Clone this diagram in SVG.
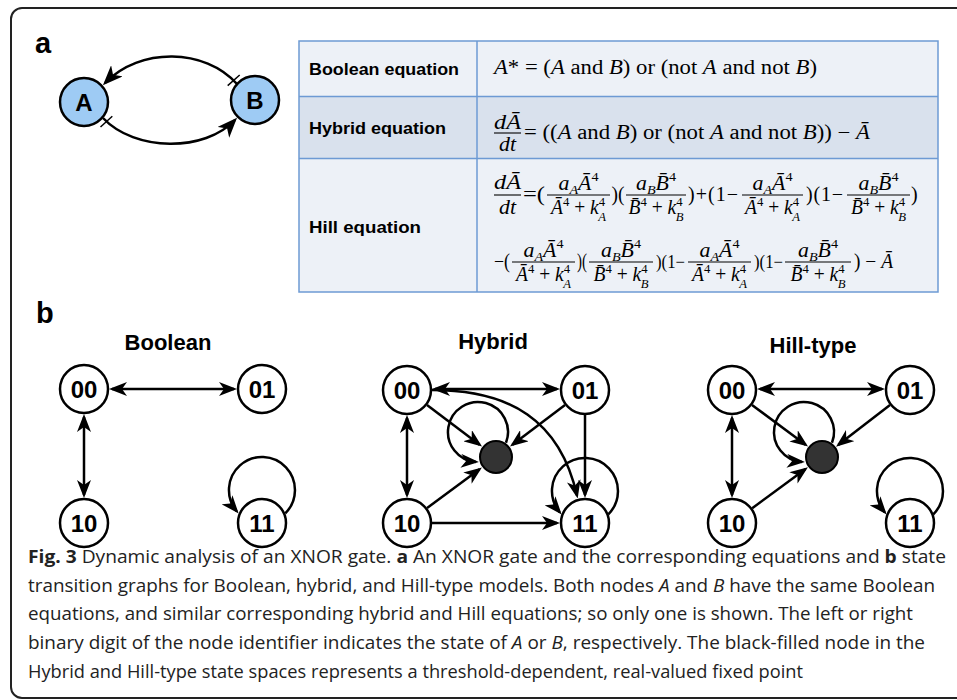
<svg xmlns="http://www.w3.org/2000/svg" width="957" height="700" viewBox="0 0 957 700">
<defs>
<style>
.sans{font-family:"Liberation Sans",Arial,sans-serif;font-weight:bold}
.lbl{font-family:"Liberation Sans",Arial,sans-serif;font-weight:bold;font-size:24px;text-anchor:middle}
.ttl{font-family:"Liberation Sans",Arial,sans-serif;font-weight:bold;font-size:22px;text-anchor:middle}
.nd{fill:#fff;stroke:#000;stroke-width:2.5}
.fx{fill:#333;stroke:#000;stroke-width:2}
.ab{fill:#9ecbf4;stroke:#000;stroke-width:2.5}
.e{fill:none;stroke:#000;stroke-width:2.5}
.tk{fill:none;stroke:#000;stroke-width:1.5}
.m{font-family:"Liberation Serif","Times New Roman","DejaVu Serif",serif;font-size:20px;fill:#000}
.h{font-family:"Liberation Serif","Times New Roman","DejaVu Serif",serif;font-size:20px;fill:#000}
.o{font-size:18px}
.i{font-style:italic}
.s{font-size:13px}
.bar{stroke:#000;stroke-width:1.1}
.cap{font-family:"Open Sans","Noto Sans",sans-serif;font-size:18px;fill:#222}
.b{font-weight:bold}
</style>
<marker id="ar" viewBox="0 0 18 14" refX="15" refY="7" markerWidth="18" markerHeight="14" markerUnits="userSpaceOnUse" orient="auto-start-reverse"><path d="M0,0 L18,7 L0,14 L5,7 z" fill="#000"/></marker>
<marker id="arL" viewBox="0 0 20 16" refX="17" refY="8" markerWidth="20" markerHeight="16" markerUnits="userSpaceOnUse" orient="auto"><path d="M0,0 L20,8 L0,16 L5.5,8 z" fill="#000"/></marker>
</defs>
<rect width="957" height="700" fill="#fff"/>
<rect x="11" y="8" width="970" height="690" rx="11" fill="none" stroke="#222" stroke-width="2"/>

<!-- panel a -->
<text class="sans" x="35" y="53" font-size="29">a</text>

<g id="table">
<rect x="299" y="41" width="639" height="55.5" fill="#edf1f7"/>
<rect x="299" y="96.5" width="639" height="62" fill="#d9e1ed"/>
<rect x="299" y="158.5" width="639" height="133.5" fill="#edf1f7"/>
<g fill="none" stroke="#6d9ad4" stroke-width="1.5">
<rect x="299" y="41" width="639" height="251"/>
<line x1="477" y1="41" x2="477" y2="292"/>
<line x1="299" y1="96.5" x2="938" y2="96.5"/>
<line x1="299" y1="158.5" x2="938" y2="158.5"/>
</g>
<text class="sans" x="309" y="75" font-size="17" textLength="150" lengthAdjust="spacingAndGlyphs">Boolean equation</text>
<text class="sans" x="309" y="134" font-size="17" textLength="137" lengthAdjust="spacingAndGlyphs">Hybrid equation</text>
<text class="sans" x="309" y="233" font-size="17" textLength="112" lengthAdjust="spacingAndGlyphs">Hill equation</text>

<!-- Boolean equation -->
<text class="m" x="494" y="73.5" textLength="323" lengthAdjust="spacingAndGlyphs"><tspan class="i">A</tspan>* = (<tspan class="i">A</tspan> and <tspan class="i">B</tspan>) or (not <tspan class="i">A</tspan> and not <tspan class="i">B</tspan>)</text>

<!-- Hybrid equation -->
<text class="m" x="507.5" y="129" text-anchor="middle" textLength="27" lengthAdjust="spacingAndGlyphs"><tspan class="i">dĀ</tspan></text>
<line class="bar" x1="494" y1="133" x2="521" y2="133"/>
<text class="m" x="507.5" y="150.5" text-anchor="middle" textLength="17" lengthAdjust="spacingAndGlyphs"><tspan class="i">dt</tspan></text>
<text class="m" x="524" y="138.5" textLength="346" lengthAdjust="spacingAndGlyphs">= ((<tspan class="i">A</tspan> and <tspan class="i">B</tspan>) or (not <tspan class="i">A</tspan> and not <tspan class="i">B</tspan>)) − <tspan class="i">Ā</tspan></text>

<!-- Hill equation line 1 -->
<text class="h" x="507.5" y="188.5" text-anchor="middle" textLength="27" lengthAdjust="spacingAndGlyphs"><tspan class="i">dĀ</tspan></text>
<line class="bar" x1="494" y1="195" x2="521" y2="195"/>
<text class="h" x="507.5" y="214" text-anchor="middle" textLength="17" lengthAdjust="spacingAndGlyphs"><tspan class="i">dt</tspan></text>
<text class="h" x="523" y="201" textLength="22" lengthAdjust="spacingAndGlyphs">=(</text>
<text class="h" x="578.5" y="189.5" text-anchor="middle" textLength="40" lengthAdjust="spacingAndGlyphs"><tspan class="i">a</tspan><tspan class="s i" dy="4">A</tspan><tspan class="i" dy="-4">Ā</tspan><tspan class="s" dy="-9">4</tspan></text>
<line class="bar" x1="547" y1="195" x2="610" y2="195"/>
<text class="h" x="578.5" y="214" text-anchor="middle" textLength="55" lengthAdjust="spacingAndGlyphs"><tspan class="i">Ā</tspan><tspan class="s" dy="-8">4</tspan><tspan dy="8"> + </tspan><tspan class="i">k</tspan><tspan class="s" dy="-8">4</tspan><tspan class="s i" dx="-7" dy="15">A</tspan></text>
<text class="h" x="611.5" y="201" textLength="13" lengthAdjust="spacingAndGlyphs">)(</text>
<text class="h" x="656" y="189.5" text-anchor="middle" textLength="40" lengthAdjust="spacingAndGlyphs"><tspan class="i">a</tspan><tspan class="s i" dy="4">B</tspan><tspan class="i" dy="-4">B&#x304;</tspan><tspan class="s" dy="-9">4</tspan></text>
<line class="bar" x1="626" y1="195" x2="686" y2="195"/>
<text class="h" x="656" y="214" text-anchor="middle" textLength="55" lengthAdjust="spacingAndGlyphs"><tspan class="i">B&#x304;</tspan><tspan class="s" dy="-8">4</tspan><tspan dy="8"> + </tspan><tspan class="i">k</tspan><tspan class="s" dy="-8">4</tspan><tspan class="s i" dx="-7" dy="15">B</tspan></text>
<text class="h" x="688" y="201" textLength="50" lengthAdjust="spacing">)+(1−</text>
<text class="h" x="772.5" y="189.5" text-anchor="middle" textLength="40" lengthAdjust="spacingAndGlyphs"><tspan class="i">a</tspan><tspan class="s i" dy="4">A</tspan><tspan class="i" dy="-4">Ā</tspan><tspan class="s" dy="-9">4</tspan></text>
<line class="bar" x1="742" y1="195" x2="803" y2="195"/>
<text class="h" x="772.5" y="214" text-anchor="middle" textLength="55" lengthAdjust="spacingAndGlyphs"><tspan class="i">Ā</tspan><tspan class="s" dy="-8">4</tspan><tspan dy="8"> + </tspan><tspan class="i">k</tspan><tspan class="s" dy="-8">4</tspan><tspan class="s i" dx="-7" dy="15">A</tspan></text>
<text class="h" x="806" y="201" textLength="37" lengthAdjust="spacing">)(1−</text>
<text class="h" x="878.5" y="189.5" text-anchor="middle" textLength="40" lengthAdjust="spacingAndGlyphs"><tspan class="i">a</tspan><tspan class="s i" dy="4">B</tspan><tspan class="i" dy="-4">B&#x304;</tspan><tspan class="s" dy="-9">4</tspan></text>
<line class="bar" x1="847" y1="195" x2="910" y2="195"/>
<text class="h" x="878.5" y="214" text-anchor="middle" textLength="55" lengthAdjust="spacingAndGlyphs"><tspan class="i">B&#x304;</tspan><tspan class="s" dy="-8">4</tspan><tspan dy="8"> + </tspan><tspan class="i">k</tspan><tspan class="s" dy="-8">4</tspan><tspan class="s i" dx="-7" dy="15">B</tspan></text>
<text class="h" x="911" y="201">)</text>

<!-- Hill equation line 2 -->
<text class="h" x="494" y="268" textLength="16" lengthAdjust="spacingAndGlyphs">−(</text>
<text class="h" x="543.5" y="256.5" text-anchor="middle" textLength="40" lengthAdjust="spacingAndGlyphs"><tspan class="i">a</tspan><tspan class="s i" dy="4">A</tspan><tspan class="i" dy="-4">Ā</tspan><tspan class="s" dy="-9">4</tspan></text>
<line class="bar" x1="512" y1="262" x2="575" y2="262"/>
<text class="h" x="543.5" y="281" text-anchor="middle" textLength="55" lengthAdjust="spacingAndGlyphs"><tspan class="i">Ā</tspan><tspan class="s" dy="-8">4</tspan><tspan dy="8"> + </tspan><tspan class="i">k</tspan><tspan class="s" dy="-8">4</tspan><tspan class="s i" dx="-7" dy="15">A</tspan></text>
<text class="h" x="577" y="268" textLength="10" lengthAdjust="spacingAndGlyphs">)(</text>
<text class="h" x="621" y="256.5" text-anchor="middle" textLength="40" lengthAdjust="spacingAndGlyphs"><tspan class="i">a</tspan><tspan class="s i" dy="4">B</tspan><tspan class="i" dy="-4">B&#x304;</tspan><tspan class="s" dy="-9">4</tspan></text>
<line class="bar" x1="589" y1="262" x2="653" y2="262"/>
<text class="h" x="621" y="281" text-anchor="middle" textLength="55" lengthAdjust="spacingAndGlyphs"><tspan class="i">B&#x304;</tspan><tspan class="s" dy="-8">4</tspan><tspan dy="8"> + </tspan><tspan class="i">k</tspan><tspan class="s" dy="-8">4</tspan><tspan class="s i" dx="-7" dy="15">B</tspan></text>
<text class="h o" x="656" y="268" textLength="29" lengthAdjust="spacingAndGlyphs">)(1−</text>
<text class="h" x="719.5" y="256.5" text-anchor="middle" textLength="40" lengthAdjust="spacingAndGlyphs"><tspan class="i">a</tspan><tspan class="s i" dy="4">A</tspan><tspan class="i" dy="-4">Ā</tspan><tspan class="s" dy="-9">4</tspan></text>
<line class="bar" x1="688" y1="262" x2="751" y2="262"/>
<text class="h" x="719.5" y="281" text-anchor="middle" textLength="55" lengthAdjust="spacingAndGlyphs"><tspan class="i">Ā</tspan><tspan class="s" dy="-8">4</tspan><tspan dy="8"> + </tspan><tspan class="i">k</tspan><tspan class="s" dy="-8">4</tspan><tspan class="s i" dx="-7" dy="15">A</tspan></text>
<text class="h o" x="754" y="268" textLength="29" lengthAdjust="spacingAndGlyphs">)(1−</text>
<text class="h" x="818" y="256.5" text-anchor="middle" textLength="40" lengthAdjust="spacingAndGlyphs"><tspan class="i">a</tspan><tspan class="s i" dy="4">B</tspan><tspan class="i" dy="-4">B&#x304;</tspan><tspan class="s" dy="-9">4</tspan></text>
<line class="bar" x1="785" y1="262" x2="851" y2="262"/>
<text class="h" x="818" y="281" text-anchor="middle" textLength="55" lengthAdjust="spacingAndGlyphs"><tspan class="i">B&#x304;</tspan><tspan class="s" dy="-8">4</tspan><tspan dy="8"> + </tspan><tspan class="i">k</tspan><tspan class="s" dy="-8">4</tspan><tspan class="s i" dx="-7" dy="15">B</tspan></text>
<text class="h" x="854" y="268" textLength="39" lengthAdjust="spacingAndGlyphs">) − <tspan class="i">Ā</tspan></text>
</g>

<!-- panel b -->
<text class="sans" x="36" y="323" font-size="29">b</text>
<text class="ttl" x="168" y="350">Boolean</text>
<text class="ttl" x="493" y="349">Hybrid</text>
<text class="ttl" x="813" y="353">Hill-type</text>

<g id="connectors">
<!-- panel a -->
<path class="e" d="M237,84 C205,48 140,47 105,83" marker-end="url(#arL)"/>
<line class="tk" x1="239.7" y1="75" x2="227.7" y2="85.6"/>
<path class="e" d="M103,118 C135,152 205,152 235,120" marker-end="url(#arL)"/>
<line class="tk" x1="112.3" y1="116.2" x2="100.5" y2="127"/>
<!-- Boolean -->
<line class="e" x1="112" y1="389" x2="234" y2="389" marker-start="url(#ar)" marker-end="url(#ar)"/>
<line class="e" x1="84" y1="417" x2="84" y2="495" marker-start="url(#ar)" marker-end="url(#ar)"/>
<path class="e" d="M285.3,513.3 A33,33 0 1 0 236.7,511.2" marker-end="url(#ar)"/>
<!-- Hybrid -->
<line class="e" x1="435" y1="389" x2="557" y2="389" marker-start="url(#ar)" marker-end="url(#ar)"/>
<line class="e" x1="407" y1="418" x2="407" y2="495" marker-start="url(#ar)" marker-end="url(#ar)"/>
<line class="e" x1="432" y1="523" x2="557" y2="523" marker-end="url(#ar)"/>
<line class="e" x1="585" y1="415" x2="585" y2="495" marker-end="url(#ar)"/>
<line class="e" x1="427" y1="405" x2="479.6" y2="444.7" marker-end="url(#ar)"/>
<line class="e" x1="565" y1="405" x2="512.4" y2="444.7" marker-end="url(#ar)"/>
<line class="e" x1="427.1" y1="508.1" x2="479.5" y2="469.2" marker-end="url(#ar)"/>
<path class="e" d="M506,442.7 A30,30 0 1 0 475.9,461.9" marker-end="url(#ar)"/>
<path class="e" d="M432,390 C510,390 560,420 577,495.5" marker-end="url(#ar)"/>
<path class="e" d="M608.3,514.3 A33,33 0 1 0 559.7,512.2" marker-end="url(#ar)"/>
<!-- Hill-type -->
<line class="e" x1="760" y1="389" x2="882" y2="389" marker-start="url(#ar)" marker-end="url(#ar)"/>
<line class="e" x1="732" y1="418" x2="732" y2="495" marker-start="url(#ar)" marker-end="url(#ar)"/>
<line class="e" x1="752" y1="404.9" x2="805.6" y2="444.8" marker-end="url(#ar)"/>
<line class="e" x1="890" y1="404.9" x2="838.4" y2="444.8" marker-end="url(#ar)"/>
<line class="e" x1="752.2" y1="508.2" x2="805.5" y2="469.1" marker-end="url(#ar)"/>
<path class="e" d="M832,442.7 A30,30 0 1 0 801.9,461.9" marker-end="url(#ar)"/>
<path class="e" d="M933.3,514.3 A33,33 0 1 0 884.7,512.2" marker-end="url(#ar)"/>
</g>

<g id="nodeA"><circle class="ab" cx="84" cy="102" r="24"/><text class="lbl" x="84" y="110.5" font-size="23">A</text></g>
<g id="nodeB"><circle class="ab" cx="255" cy="100" r="24"/><text class="lbl" x="255" y="108.5" font-size="23">B</text></g>

<g id="bool-00"><circle class="nd" cx="84" cy="389" r="24"/><text class="lbl" x="84" y="397.5">00</text></g>
<g id="bool-01"><circle class="nd" cx="262" cy="389" r="24"/><text class="lbl" x="262" y="397.5">01</text></g>
<g id="bool-10"><circle class="nd" cx="84" cy="523" r="24"/><text class="lbl" x="84" y="531.5">10</text></g>
<g id="bool-11"><circle class="nd" cx="262" cy="523" r="24"/><text class="lbl" x="262" y="531.5">11</text></g>

<g id="hyb-00"><circle class="nd" cx="407" cy="390" r="24"/><text class="lbl" x="407" y="398.5">00</text></g>
<g id="hyb-01"><circle class="nd" cx="585" cy="390" r="24"/><text class="lbl" x="585" y="398.5">01</text></g>
<g id="hyb-10"><circle class="nd" cx="407" cy="523" r="24"/><text class="lbl" x="407" y="531.5">10</text></g>
<g id="hyb-11"><circle class="nd" cx="585" cy="523" r="24"/><text class="lbl" x="585" y="531.5">11</text></g>
<g id="hyb-fixed"><circle class="fx" cx="496" cy="457" r="16"/></g>

<g id="hill-00"><circle class="nd" cx="732" cy="390" r="24"/><text class="lbl" x="732" y="398.5">00</text></g>
<g id="hill-01"><circle class="nd" cx="910" cy="390" r="24"/><text class="lbl" x="910" y="398.5">01</text></g>
<g id="hill-10"><circle class="nd" cx="732" cy="523" r="24"/><text class="lbl" x="732" y="531.5">10</text></g>
<g id="hill-11"><circle class="nd" cx="910" cy="523" r="24"/><text class="lbl" x="910" y="531.5">11</text></g>
<g id="hill-fixed"><circle class="fx" cx="822" cy="457" r="16"/></g>

<g id="caption">
<text class="cap" x="28" y="563" textLength="918" lengthAdjust="spacingAndGlyphs"><tspan class="b">Fig. 3</tspan> Dynamic analysis of an XNOR gate. <tspan class="b">a</tspan> An XNOR gate and the corresponding equations and <tspan class="b">b</tspan> state</text>
<text class="cap" x="28" y="592" textLength="907" lengthAdjust="spacingAndGlyphs">transition graphs for Boolean, hybrid, and Hill-type models. Both nodes <tspan class="i">A</tspan> and <tspan class="i">B</tspan> have the same Boolean</text>
<text class="cap" x="28" y="620" textLength="885" lengthAdjust="spacingAndGlyphs">equations, and similar corresponding hybrid and Hill equations; so only one is shown. The left or right</text>
<text class="cap" x="28" y="649" textLength="897" lengthAdjust="spacingAndGlyphs">binary digit of the node identifier indicates the state of <tspan class="i">A</tspan> or <tspan class="i">B</tspan>, respectively. The black-filled node in the</text>
<text class="cap" x="28" y="678" textLength="775" lengthAdjust="spacingAndGlyphs">Hybrid and Hill-type state spaces represents a threshold-dependent, real-valued fixed point</text>
</g>
</svg>
